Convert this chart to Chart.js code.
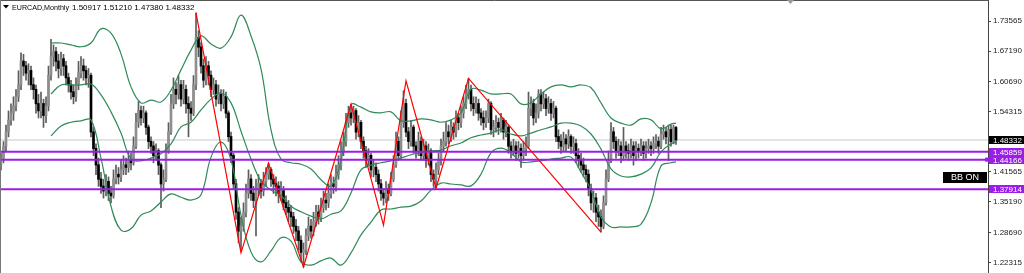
<!DOCTYPE html>
<html><head><meta charset="utf-8">
<script src="https://cdn.jsdelivr.net/npm/chart.js@4.4.1/dist/chart.umd.min.js"></script>
<style>html,body{margin:0;padding:0;background:#fff;overflow:hidden}#wrap{position:relative;width:1024px;height:273px}</style>
</head><body><div id="wrap"><canvas id="c"></canvas></div>
<script>
const symbolTitle = "EURCAD,Monthly";
const lastOHLC = ["1.50917", "1.51210", "1.47380", "1.48332"];
const indicatorLabel = "BB ON";

const opens = [
1.430,1.445,1.470,1.500,1.525,1.540,1.555,1.575,1.600,1.650,
1.640,1.625,1.630,1.600,1.590,1.560,1.545,1.560,1.535,1.555,
1.620,1.660,1.670,1.650,1.635,1.655,1.640,1.615,1.600,1.585,
1.575,1.600,1.625,1.640,1.630,1.615,1.620,1.500,1.465,1.430,
1.400,1.385,1.375,1.395,1.370,1.365,1.400,1.410,1.405,1.420,
1.430,1.425,1.440,1.435,1.470,1.520,1.545,1.530,1.540,1.510,
1.480,1.470,1.450,1.460,1.430,1.390,1.400,1.460,1.500,1.560,
1.590,1.580,1.600,1.570,1.590,1.560,1.550,1.540,1.600,1.700,
1.680,1.640,1.610,1.640,1.620,1.590,1.600,1.570,1.580,1.560,
1.575,1.540,1.490,1.450,1.390,1.330,1.290,1.300,1.330,1.370,
1.400,1.370,1.355,1.380,1.390,1.375,1.395,1.410,1.420,1.400,
1.390,1.385,1.370,1.375,1.350,1.340,1.330,1.320,1.300,1.290,
1.270,1.245,1.250,1.280,1.300,1.290,1.310,1.330,1.320,1.340,
1.355,1.350,1.370,1.390,1.385,1.410,1.430,1.460,1.480,1.520,
1.540,1.530,1.545,1.500,1.520,1.480,1.460,1.440,1.450,1.420,
1.425,1.410,1.390,1.370,1.360,1.380,1.370,1.400,1.430,1.480,
1.450,1.520,1.560,1.500,1.480,1.510,1.470,1.460,1.480,1.450,
1.470,1.440,1.460,1.410,1.400,1.420,1.440,1.470,1.480,1.500,
1.490,1.510,1.500,1.530,1.520,1.540,1.560,1.580,1.590,1.560,
1.550,1.560,1.540,1.530,1.520,1.530,1.560,1.505,1.510,1.520,
1.510,1.525,1.500,1.510,1.470,1.460,1.470,1.455,1.465,1.450,
1.465,1.470,1.550,1.560,1.530,1.540,1.580,1.560,1.570,1.550,
1.560,1.540,1.550,1.490,1.480,1.470,1.485,1.475,1.490,1.470,
1.475,1.450,1.440,1.430,1.420,1.410,1.380,1.350,1.360,1.330,
1.320,1.300,1.350,1.400,1.440,1.500,1.480,1.460,1.470,1.450,
1.470,1.460,1.455,1.470,1.450,1.465,1.460,1.470,1.455,1.465,
1.470,1.465,1.475,1.480,1.470,1.495,1.500,1.490,1.505,1.480,1.50917];
const highs = [
1.455,1.480,1.515,1.545,1.560,1.575,1.590,1.630,1.668,1.665,
1.650,1.645,1.640,1.615,1.600,1.580,1.585,1.570,1.575,1.640,
1.697,1.685,1.680,1.665,1.670,1.665,1.650,1.625,1.610,1.600,
1.615,1.650,1.660,1.655,1.640,1.635,1.625,1.510,1.475,1.445,
1.415,1.400,1.410,1.405,1.385,1.420,1.430,1.425,1.440,1.450,
1.445,1.460,1.455,1.490,1.540,1.565,1.555,1.555,1.545,1.515,
1.490,1.480,1.475,1.465,1.435,1.420,1.475,1.520,1.580,1.615,
1.605,1.620,1.610,1.610,1.600,1.575,1.565,1.620,1.753,1.715,
1.690,1.655,1.660,1.650,1.630,1.615,1.610,1.600,1.590,1.590,
1.585,1.545,1.500,1.455,1.400,1.340,1.320,1.350,1.390,1.420,
1.410,1.385,1.400,1.410,1.400,1.415,1.425,1.434,1.425,1.410,
1.405,1.395,1.395,1.385,1.365,1.355,1.345,1.330,1.315,1.300,
1.280,1.265,1.295,1.320,1.315,1.330,1.345,1.345,1.360,1.375,
1.370,1.390,1.410,1.405,1.430,1.450,1.480,1.500,1.540,1.555,
1.559,1.555,1.550,1.535,1.525,1.490,1.470,1.465,1.455,1.440,
1.435,1.420,1.400,1.380,1.395,1.390,1.415,1.450,1.500,1.490,
1.545,1.588,1.570,1.510,1.525,1.515,1.480,1.500,1.490,1.485,
1.480,1.475,1.465,1.420,1.435,1.455,1.485,1.500,1.520,1.515,
1.525,1.520,1.545,1.540,1.555,1.575,1.600,1.614,1.600,1.575,
1.575,1.570,1.550,1.545,1.545,1.570,1.565,1.525,1.535,1.530,
1.540,1.530,1.525,1.515,1.480,1.485,1.480,1.480,1.475,1.480,
1.490,1.585,1.575,1.570,1.560,1.590,1.590,1.585,1.580,1.575,
1.570,1.565,1.555,1.505,1.495,1.500,1.495,1.505,1.495,1.490,
1.485,1.465,1.455,1.445,1.430,1.420,1.390,1.375,1.370,1.345,
1.335,1.365,1.420,1.460,1.520,1.510,1.490,1.485,1.480,1.510,
1.480,1.475,1.485,1.480,1.480,1.475,1.485,1.480,1.480,1.485,
1.480,1.490,1.495,1.490,1.510,1.515,1.510,1.515,1.515,1.515,1.51210];
const lows = [
1.420,1.435,1.460,1.490,1.515,1.525,1.545,1.565,1.590,1.620,
1.610,1.600,1.590,1.570,1.540,1.530,1.530,1.510,1.520,1.545,
1.610,1.640,1.630,1.615,1.620,1.620,1.600,1.585,1.570,1.560,
1.565,1.590,1.615,1.610,1.600,1.595,1.490,1.450,1.410,1.385,
1.370,1.360,1.365,1.355,1.350,1.360,1.390,1.390,1.395,1.410,
1.410,1.415,1.420,1.430,1.465,1.510,1.515,1.520,1.495,1.465,
1.455,1.435,1.440,1.410,1.340,1.375,1.395,1.455,1.495,1.550,
1.560,1.570,1.555,1.560,1.540,1.490,1.525,1.535,1.590,1.660,
1.625,1.595,1.600,1.600,1.575,1.580,1.555,1.560,1.545,1.550,
1.530,1.480,1.435,1.380,1.315,1.265,1.250,1.290,1.320,1.360,
1.355,1.340,1.280,1.365,1.360,1.365,1.385,1.400,1.385,1.370,
1.365,1.350,1.355,1.335,1.325,1.310,1.300,1.285,1.270,1.250,
1.225,1.214,1.240,1.270,1.275,1.280,1.300,1.305,1.310,1.330,
1.335,1.340,1.360,1.370,1.375,1.400,1.420,1.450,1.470,1.510,
1.515,1.520,1.485,1.490,1.465,1.445,1.425,1.430,1.405,1.405,
1.395,1.375,1.355,1.345,1.350,1.355,1.365,1.395,1.425,1.440,
1.445,1.510,1.490,1.465,1.470,1.455,1.445,1.450,1.440,1.440,
1.425,1.430,1.395,1.385,1.381,1.410,1.430,1.460,1.470,1.475,
1.480,1.485,1.490,1.505,1.510,1.530,1.550,1.570,1.545,1.535,
1.540,1.525,1.515,1.505,1.510,1.520,1.495,1.490,1.500,1.495,
1.500,1.485,1.490,1.455,1.445,1.450,1.440,1.445,1.425,1.440,
1.450,1.465,1.535,1.515,1.520,1.530,1.545,1.550,1.535,1.540,
1.525,1.530,1.480,1.465,1.455,1.460,1.460,1.465,1.455,1.455,
1.435,1.425,1.415,1.405,1.395,1.365,1.335,1.330,1.310,1.300,
1.288,1.295,1.345,1.395,1.435,1.465,1.445,1.450,1.435,1.440,
1.445,1.440,1.445,1.430,1.440,1.445,1.450,1.440,1.445,1.455,
1.450,1.455,1.465,1.455,1.465,1.485,1.475,1.440,1.470,1.475,1.47380];
const closes = [
1.445,1.470,1.500,1.525,1.540,1.555,1.575,1.600,1.650,1.640,
1.625,1.630,1.600,1.590,1.560,1.545,1.560,1.535,1.555,1.620,
1.660,1.670,1.650,1.635,1.655,1.640,1.615,1.600,1.585,1.575,
1.600,1.625,1.640,1.630,1.615,1.620,1.500,1.465,1.430,1.400,
1.385,1.375,1.395,1.370,1.365,1.400,1.410,1.405,1.420,1.430,
1.425,1.440,1.435,1.470,1.520,1.545,1.530,1.540,1.510,1.480,
1.470,1.450,1.460,1.430,1.390,1.400,1.460,1.500,1.560,1.590,
1.580,1.600,1.570,1.590,1.560,1.550,1.540,1.600,1.700,1.680,
1.640,1.610,1.640,1.620,1.590,1.600,1.570,1.580,1.560,1.575,
1.540,1.490,1.450,1.390,1.330,1.290,1.300,1.330,1.370,1.400,
1.370,1.355,1.380,1.390,1.375,1.395,1.410,1.420,1.400,1.390,
1.385,1.370,1.375,1.350,1.340,1.330,1.320,1.300,1.290,1.270,
1.245,1.250,1.280,1.300,1.290,1.310,1.330,1.320,1.340,1.355,
1.350,1.370,1.390,1.385,1.410,1.430,1.460,1.480,1.520,1.540,
1.530,1.545,1.500,1.520,1.480,1.460,1.440,1.450,1.420,1.425,
1.410,1.390,1.370,1.360,1.380,1.370,1.400,1.430,1.480,1.450,
1.520,1.560,1.500,1.480,1.510,1.470,1.460,1.480,1.450,1.470,
1.440,1.460,1.410,1.400,1.420,1.440,1.470,1.480,1.500,1.490,
1.510,1.500,1.530,1.520,1.540,1.560,1.580,1.590,1.560,1.550,
1.560,1.540,1.530,1.520,1.530,1.560,1.505,1.510,1.520,1.510,
1.525,1.500,1.510,1.470,1.460,1.470,1.455,1.465,1.450,1.465,
1.470,1.550,1.560,1.530,1.540,1.580,1.560,1.570,1.550,1.560,
1.540,1.550,1.490,1.480,1.470,1.485,1.475,1.490,1.470,1.475,
1.450,1.440,1.430,1.420,1.410,1.380,1.350,1.360,1.330,1.320,
1.300,1.350,1.400,1.440,1.500,1.480,1.460,1.470,1.450,1.470,
1.460,1.455,1.470,1.450,1.465,1.460,1.470,1.455,1.465,1.470,
1.465,1.475,1.480,1.470,1.495,1.500,1.490,1.505,1.480,1.509,1.48332];

const bbIndex = [20,24,28,32,36,40,44,48,52,56,60,64,68,72,76,80,84,88,92,96,100,104,108,112,116,120,124,128,132,136,140,144,148,152,156,160,164,168,172,176,180,184,188,192,196,200,204,208,212,216,220,224,228,232,236,240,244,248,252,256,260,264,268,270];
const bbUpper = [1.689,1.689,1.685,1.681,1.689,1.719,1.710,1.666,1.596,1.562,1.568,1.564,1.589,1.632,1.674,1.704,1.687,1.678,1.702,1.748,1.704,1.634,1.505,1.443,1.435,1.432,1.422,1.399,1.386,1.441,1.558,1.553,1.543,1.541,1.543,1.524,1.524,1.528,1.526,1.521,1.526,1.541,1.591,1.589,1.581,1.581,1.581,1.560,1.562,1.581,1.596,1.600,1.596,1.600,1.594,1.562,1.530,1.519,1.515,1.528,1.526,1.507,1.517,1.519];
const bbMiddle = [1.581,1.600,1.600,1.600,1.602,1.579,1.543,1.498,1.443,1.439,1.445,1.454,1.475,1.511,1.521,1.547,1.570,1.583,1.562,1.502,1.443,1.396,1.377,1.365,1.343,1.331,1.322,1.316,1.326,1.333,1.371,1.420,1.430,1.435,1.439,1.445,1.452,1.456,1.460,1.462,1.471,1.477,1.488,1.494,1.498,1.505,1.496,1.492,1.498,1.505,1.511,1.519,1.519,1.513,1.496,1.464,1.422,1.407,1.405,1.411,1.424,1.458,1.475,1.479];
const bbLower = [1.492,1.513,1.521,1.524,1.526,1.445,1.343,1.292,1.295,1.324,1.333,1.352,1.369,1.362,1.356,1.367,1.447,1.479,1.441,1.324,1.246,1.225,1.248,1.276,1.269,1.225,1.218,1.227,1.233,1.218,1.244,1.282,1.309,1.335,1.337,1.341,1.343,1.354,1.377,1.392,1.390,1.388,1.386,1.411,1.456,1.466,1.456,1.437,1.437,1.439,1.443,1.445,1.447,1.415,1.377,1.320,1.299,1.299,1.299,1.305,1.350,1.428,1.435,1.437];

const zigzagIndex = [78,96,107,121,140,153,162,174,187,240];
const zigzagPrice = [1.753,1.244,1.434,1.214,1.559,1.303,1.609,1.381,1.614,1.288];

const levelPrices = [1.45859, 1.44166, 1.37914];
const currentPrice = 1.48332;
const axisTicks = [1.73565, 1.67190, 1.60690, 1.54315, 1.41565, 1.35190, 1.28690, 1.22315];

const X_MIN = -0.4, X_MAX = 394.8;
const Y_MIN = 1.20129, Y_MAX = 1.78018;
const PURPLE = '#9b1ee6', GREEN = '#2e8b57';

const wickData = highs.map((h, i) => ({x: i, y: [lows[i], h]}));
const bodyData = opens.map((o, i) => ({x: i, y: [Math.min(o, closes[i]), Math.max(o, closes[i]) + 0.0008]}));
const bodyColors = opens.map((o, i) => closes[i] >= o ? '#8e8e8e' : '#000000');
const bandLine = arr => bbIndex.map((ix, k) => ({x: ix, y: arr[k]}));
const hLine = p => [{x: X_MIN, y: p}, {x: X_MAX, y: p}];

const lineBase = {type: 'line', pointRadius: 0, fill: false, tension: 0};
const datasets = [
  Object.assign({}, lineBase, {data: hLine(currentPrice), borderColor: '#c8c8c8', borderWidth: 1, order: 20}),
  {type: 'bar', data: wickData, backgroundColor: '#5c5c5c', barThickness: 1, grouped: false, order: 12},
  {type: 'bar', data: bodyData, backgroundColor: bodyColors, barThickness: 2, grouped: false, order: 11},
  Object.assign({}, lineBase, {data: bandLine(bbUpper), borderColor: GREEN, borderWidth: 1.2, tension: 0.4, order: 5}),
  Object.assign({}, lineBase, {data: bandLine(bbMiddle), borderColor: GREEN, borderWidth: 1.2, tension: 0.4, order: 5}),
  Object.assign({}, lineBase, {data: bandLine(bbLower), borderColor: GREEN, borderWidth: 1.2, tension: 0.4, order: 5}),
];
levelPrices.forEach(p => datasets.push(Object.assign({}, lineBase, {data: hLine(p), borderColor: PURPLE, borderWidth: 2, order: 3})));
datasets.push(Object.assign({}, lineBase, {data: zigzagIndex.map((ix, k) => ({x: ix, y: zigzagPrice[k]})), borderColor: '#ff0000', borderWidth: 1.2, order: 1}));

const overlay = {
  id: 'overlay',
  afterDraw(chart) {
    const ctx = chart.ctx, ys = chart.scales.y, ca = chart.chartArea;
    ctx.save();
    ctx.strokeStyle = '#555'; ctx.lineWidth = 1;
    ctx.beginPath(); ctx.moveTo(0, 0.5); ctx.lineTo(ca.right + 1, 0.5); ctx.stroke();
    ctx.strokeStyle = '#777';
    ctx.beginPath(); ctx.moveTo(0.5, 0); ctx.lineTo(0.5, 273); ctx.stroke();
    ctx.fillStyle = '#000';
    ctx.beginPath(); ctx.moveTo(3, 5); ctx.lineTo(9, 5); ctx.lineTo(6, 8.5); ctx.closePath(); ctx.fill();
    ctx.font = '8px "Liberation Sans"'; ctx.textBaseline = 'alphabetic'; ctx.textAlign = 'left';
    ctx.fillText(symbolTitle, 12, 9.5, 57);
    ctx.fillText(lastOHLC.join(' '), 72, 9.5);
    ctx.fillStyle = '#9a9a9a';
    ctx.beginPath(); ctx.moveTo(787, 0); ctx.lineTo(794, 0); ctx.lineTo(790.5, 4); ctx.closePath(); ctx.fill();
    const boxes = [[currentPrice, '#000000']].concat(levelPrices.map(p => [p, PURPLE]));
    ctx.font = '8px "Liberation Sans"'; ctx.textBaseline = 'middle';
    boxes.forEach(([p, col]) => {
      const y = Math.round(ys.getPixelForValue(p));
      ctx.fillStyle = col; ctx.fillRect(ca.right + 1, y - 4, 1024 - ca.right - 1, 8);
      ctx.fillStyle = '#fff'; ctx.fillText(p.toFixed(5), ca.right + 5, y + 0.5);
    });
    const ys2 = ys.getPixelForValue(levelPrices[1]);
    ctx.fillStyle = PURPLE; ctx.fillRect(ca.right - 3, ys2 - 2, 4, 4);
    ctx.fillStyle = '#000'; ctx.fillRect(943, 172, 44, 11);
    ctx.fillStyle = '#fff'; ctx.font = '9px "Liberation Sans"'; ctx.textAlign = 'center';
    ctx.fillText(indicatorLabel, 965, 178);
    ctx.restore();
  }
};

new Chart(document.getElementById('c'), {
  type: 'bar',
  data: {datasets},
  options: {
    responsive: true, maintainAspectRatio: false, animation: false,
    layout: {padding: 0},
    plugins: {legend: {display: false}, tooltip: {enabled: false}},
    scales: {
      x: {type: 'linear', min: X_MIN, max: X_MAX, display: false, offset: false},
      y: {
        position: 'right', min: Y_MIN, max: Y_MAX,
        afterBuildTicks: s => { s.ticks = axisTicks.map(v => ({value: v})); },
        afterFit: s => { s.width = 36; s.paddingTop = 0; s.paddingBottom = 0; },
        grid: {drawOnChartArea: false, drawTicks: true, tickLength: 3, color: '#444'},
        border: {display: true, color: '#444'},
        ticks: {padding: 2, color: '#222', font: {family: 'Liberation Sans', size: 8}, callback: v => Number(v).toFixed(5)}
      }
    }
  },
  plugins: [overlay]
});
</script>
</body></html>
